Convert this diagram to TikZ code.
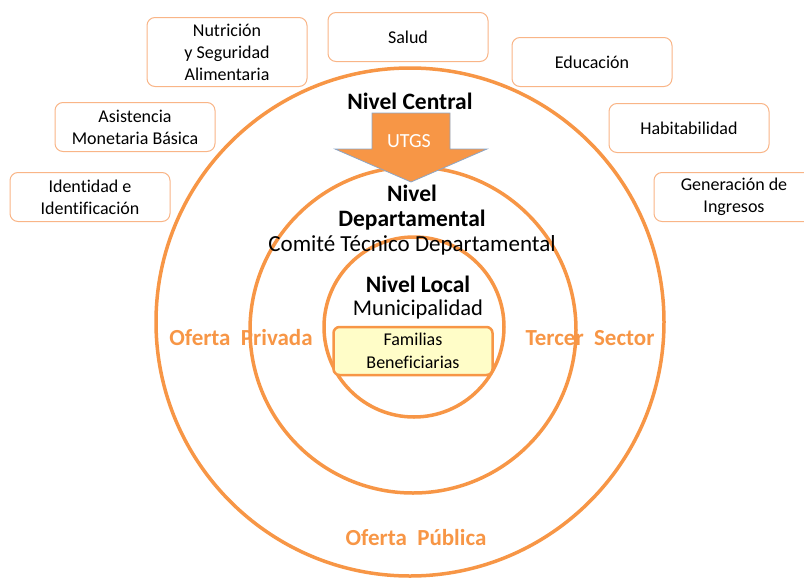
\documentclass[tikz,border=0pt]{standalone}
\usepackage{fontspec}
\setmainfont{Carlito}[Ligatures=CommonOff]
\usetikzlibrary{positioning}
\definecolor{ringOrange}{HTML}{F79646}
\definecolor{boxLine}{HTML}{F9B587}
\definecolor{famFill}{HTML}{FFFDC8}
\definecolor{arrowLine}{HTML}{8CA6C6}

\begin{document}
\begin{tikzpicture}[
  x=1pt, y=-1pt,
  ring/.style={draw=ringOrange, line width=3.5pt},
  area/.style={draw=boxLine, line width=1pt, rounded corners=8pt, fill=white,
               minimum width=160pt, minimum height=49pt, inner sep=0pt,
               font=\fontsize{18}{22}\selectfont, align=center},
  level/.style={font=\fontsize{23.5}{25}\selectfont\bfseries, align=center, inner sep=0pt},
  sub/.style={font=\fontsize{23}{25}\selectfont, align=center, inner sep=0pt},
  sector/.style={font=\fontsize{23}{25}\selectfont\bfseries, text=ringOrange, inner sep=0pt}
]
  \useasboundingbox (0,0) rectangle (804,579);

  % rings
  \draw[ring] (410,322) circle (254);
  \draw[ring] (413,330) circle (163);
  \draw[ring] (414,327) circle (90);

  % policy areas
  \node[area, minimum height=69pt] (nut) at (227,52)  {Nutrición\\y Seguridad\\Alimentaria};
  \node[area] (sal) at (408,37)  {Salud};
  \node[area] (edu) at (592,62)  {Educación};
  \node[area] (asi) at (135,127) {Asistencia\\Monetaria Básica};
  \node[area] (hab) at (689,128) {Habitabilidad};
  \node[area] (ide) at (90,197)  {Identidad e\\Identificación};
  \node[area] (gen) at (734,197) {Generación de\\Ingresos};

  % central level and arrow
  \node[level] (cen) at (410,101) {Nivel Central};
  \filldraw[fill=ringOrange, draw=arrowLine, line width=0.8pt]
    (372,113) -- (450,113) -- (450,149) -- (487,149) -- (411,182)
    -- (335,149) -- (372,149) -- cycle;
  \node[font=\fontsize{20}{22}\selectfont, text=white, inner sep=0pt] (utgs) at (409,141) {UTGS};

  % departmental and local levels
  \node[level] (dep) at (412,208) {Nivel\\Departamental};
  \node[sub, below=5pt of dep] (ctd) {Comité Técnico Departamental};
  \node[level] (loc) at (418,284) {Nivel Local};
  \node[sub, below=7pt of loc, font=\fontsize{22.5}{25}\selectfont] (mun) {Municipalidad};
  \node[area, fill=famFill, draw=ringOrange, line width=2.5pt, rounded corners=6pt,
        minimum width=159pt, minimum height=48pt,
        font=\fontsize{18}{23}\selectfont] (fam) at (413,351) {Familias\\Beneficiarias};

  % sectors
  \node[sector] (pri) at (241,338) {Oferta\ \ Privada};
  \node[sector] (ter) at (590,338) {Tercer\ \ Sector};
  \node[sector] (pub) at (416,538) {Oferta\ \ Pública};
\end{tikzpicture}
\end{document}
